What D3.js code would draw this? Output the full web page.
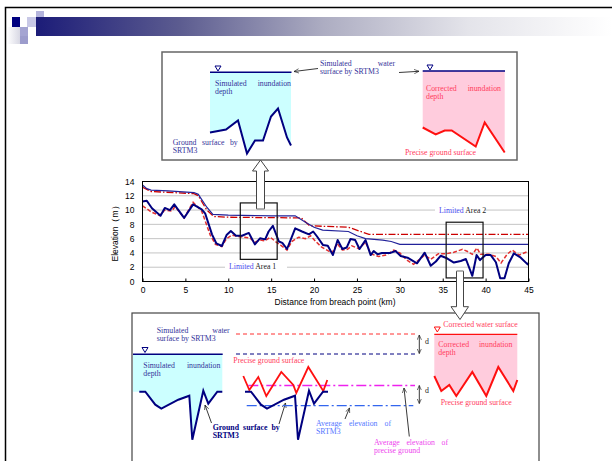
<!DOCTYPE html>
<html>
<head>
<meta charset="utf-8">
<script src="https://cdn.jsdelivr.net/npm/d3@7"></script>
<style>
  body { margin: 0; background: #fff; }
  .tick text { font: 8.5px "Liberation Sans", Arial, sans-serif; }
  .note { font-family: "Liberation Serif", "Times New Roman", serif; font-size: 7.8px; }
</style>
</head>
<body>
<svg id="slide" width="612" height="461"></svg>
<script>
  // elevation profiles along the river (km, m)
  var waterSRTM = [[0, 13.5], [0.5, 13.0], [1, 12.8], [3, 12.7], [6, 12.45], [6.5, 12.2], [7.5, 10.4], [8.2, 9.4],
    [10, 9.3], [15, 9.2], [17.8, 9.2], [19, 8.3], [20, 7.6], [21, 7.2], [24, 7.0], [25, 6.4], [26, 6.0],
    [28, 5.8], [29, 5.6], [30, 5.2], [45, 5.2]];
  var waterCorrected = [[0, 13.2], [1, 12.6], [6, 12.3], [6.5, 12.0], [7.5, 10.0], [8.3, 9.1], [10, 9.0],
    [18.5, 8.9], [19.5, 7.8], [24, 7.6], [26.4, 6.6], [45, 6.6]];
  var groundSRTM = [[0, 11.2], [0.5, 11.3], [1.1, 10.25], [2.1, 9.2], [2.6, 10.3], [3.2, 10.0], [3.7, 10.8],
    [4.85, 8.9], [5.9, 10.8], [6.9, 10.1], [7.3, 9.55], [8.1, 6.6], [8.6, 5.35], [9.25, 4.97], [9.8, 6.5],
    [10.3, 7.07], [10.9, 6.4], [11.6, 6.4], [12.4, 6.8], [13.1, 5.2], [13.7, 6.05], [14.3, 5.9], [14.7, 7.0],
    [15.2, 7.8], [15.9, 5.6], [16.3, 5.4], [16.85, 4.55], [17.8, 7.45], [18.6, 7.0], [19.4, 6.6], [19.9, 7.0],
    [20.35, 6.3], [21.05, 5.1], [21.6, 5.0], [22.2, 3.7], [22.75, 5.8], [23.3, 4.55], [23.8, 4.75],
    [24.25, 5.95], [24.8, 5.8], [25.3, 4.55], [26.0, 5.8], [26.6, 3.7], [26.95, 4.27], [27.4, 3.8],
    [27.9, 4.0], [28.9, 4.0], [29.5, 4.27], [30.1, 3.57], [30.9, 3.33], [32.0, 2.55], [32.9, 4.03],
    [33.6, 2.2], [34.2, 2.8], [34.75, 3.6], [35.5, 3.25], [36.3, 2.65], [37.1, 2.87], [37.7, 3.15],
    [38.45, 0.8], [38.95, 3.7], [39.35, 3.0], [40.0, 3.7], [40.6, 3.7], [41.2, 2.7], [41.7, 0.45],
    [42.2, 0.45], [42.7, 2.55], [43.3, 3.95], [44.1, 3.33], [44.9, 2.4], [45, 2.6]];
  var preciseGround = [[0, 10.6], [1.07, 9.7], [2.0, 9.25], [2.6, 10.0], [3.4, 9.85], [3.8, 10.5], [4.85, 8.9],
    [5.9, 11.1], [6.9, 9.85], [7.9, 6.5], [8.5, 5.2], [9.25, 4.9], [9.8, 6.0], [10.4, 6.5], [11.2, 6.3],
    [12.5, 6.1], [13.1, 5.5], [13.7, 5.8], [14.3, 5.7], [14.9, 6.2], [15.5, 5.6], [16.1, 5.1], [16.85, 4.4],
    [17.4, 5.6], [18.2, 6.2], [19.0, 6.0], [19.6, 6.4], [20.2, 5.6], [20.9, 4.8], [22.1, 4.0], [22.7, 5.3],
    [23.3, 4.4], [23.9, 4.5], [24.4, 5.0], [25.2, 4.6], [26.0, 5.5], [26.6, 3.9], [27.5, 3.5], [28.4, 3.7],
    [29.3, 4.4], [30.0, 4.0], [30.8, 3.0], [31.6, 2.4], [32.9, 3.7], [33.6, 3.1], [34.5, 3.9], [35.5, 3.9],
    [36.3, 4.1], [37.3, 4.5], [37.9, 4.2], [38.45, 3.8], [39.0, 4.7], [39.4, 3.8], [40.4, 3.8], [41.2, 3.5],
    [41.8, 2.6], [42.5, 3.8], [43.1, 4.4], [43.9, 3.7], [44.9, 4.2]];
  var xTicks = [0, 5, 10, 15, 20, 25, 30, 35, 40, 45];
  var yTicks = [0, 2, 4, 6, 8, 10, 12, 14];
  // limited areas: [km from, km to, m top, m bottom]
  var area1 = [11.4, 15.7, 11.0, 3.1];
  var area2 = [35.4, 39.7, 8.3, 0.5];

  // sketch profiles in the explanation boxes (pixel offsets)
  var sketchGroundA = [[0, 24], [16, 21], [28, 12], [37, 45], [45, 32], [53, 32], [61, 8], [68, 0], [77, 29], [81, 37]];
  var sketchGroundB = [[0, 5], [13, 12], [22, 8], [29, 8], [53, 24], [62, 0], [82, 30]];
  var sketchGroundC = [[0, 0], [6, 0], [16, 13], [22, 17], [39, 8], [50, 4], [53, 48], [64, -1], [69, 12], [78, 0], [83, 0]];
  var sketchPreciseC = [[0, 9], [6, 23], [15, 10], [23, 29], [38, 5], [50, 18], [53, 26], [65, 0], [80, 24], [84, 13]];
  var sketchPreciseD = [[0, 9], [7, 24], [15, 18], [22, 29], [38, 5], [52, 29], [64, 0], [79, 24], [83, 13]];

  var svg = d3.select("#slide");

  // ---- slide decoration ----
  var defs = svg.append("defs");
  var grad = defs.append("linearGradient").attr("id", "bar");
  [[0, "#1c1c78"], [0.25, "#5c5c90"], [0.5, "#adadc2"], [0.75, "#e4e4ea"], [1, "#ffffff"]].forEach(function (s) {
    grad.append("stop").attr("offset", s[0]).attr("stop-color", s[1]);
  });
  var lgrad = defs.append("linearGradient").attr("id", "fade").attr("x1", 0).attr("x2", 1);
  lgrad.append("stop").attr("offset", 0).attr("stop-color", "#ffffff");
  lgrad.append("stop").attr("offset", 1).attr("stop-color", "#d8d8e4");

  svg.append("rect").attr("x", 36).attr("y", 17).attr("width", 576).attr("height", 19).attr("fill", "url(#bar)");
  svg.append("rect").attr("x", 7).attr("y", 27).attr("width", 13).attr("height", 17).attr("fill", "url(#fade)");
  svg.append("rect").attr("x", 12).attr("y", 17).attr("width", 8).attr("height", 10).attr("fill", "#000080");
  svg.append("rect").attr("x", 27).attr("y", 17).attr("width", 9).attr("height", 10).attr("fill", "#c8c8e6");
  svg.append("rect").attr("x", 36).attr("y", 11).attr("width", 8).attr("height", 6).attr("fill", "#b4b4dc");
  svg.append("rect").attr("x", 20).attr("y", 27).attr("width", 8).attr("height", 9).attr("fill", "#a4a4d2");
  svg.append("rect").attr("x", 20).attr("y", 36).attr("width", 8).attr("height", 8).attr("fill", "#9c9ccc");
  svg.append("rect").attr("x", 5.5).attr("y", 7.5).attr("width", 700).attr("height", 600)
    .attr("fill", "none").attr("stroke", "#000").attr("stroke-width", 1.5);

  // ---- main chart ----
  var x = d3.scaleLinear().domain([0, 45]).range([142.5, 528.5]);
  var y = d3.scaleLinear().domain([0, 14]).range([281.5, 181.5]);
  var line = d3.line().x(d => x(d[0])).y(d => y(d[1]));

  var chart = svg.append("g");
  chart.append("g").selectAll("line").data(yTicks.slice(1, -1)).enter().append("line")
    .attr("x1", x(0)).attr("x2", x(45)).attr("y1", d => y(d)).attr("y2", d => y(d))
    .attr("stroke", "#c4c4c4").attr("stroke-width", 1);

  chart.append("g").attr("transform", "translate(0," + y(0) + ")")
    .call(d3.axisBottom(x).tickValues(xTicks).tickSize(-3).tickPadding(5))
    .call(g => g.select(".domain").remove())
    .call(g => g.selectAll("text").attr("fill", "#000"));
  chart.append("g").attr("transform", "translate(" + x(0) + ",0)")
    .call(d3.axisLeft(y).tickValues(yTicks).tickSize(0).tickPadding(8))
    .call(g => g.select(".domain").remove())
    .call(g => g.selectAll("text").attr("fill", "#000"));

  chart.append("path").attr("d", line(preciseGround)).attr("fill", "none")
    .attr("stroke", "#e23030").attr("stroke-width", 1.5).attr("stroke-dasharray", "4,2");
  chart.append("path").attr("d", line(waterCorrected)).attr("fill", "none")
    .attr("stroke", "#cc0000").attr("stroke-width", 1.3).attr("stroke-dasharray", "7,2,1.5,2");
  chart.append("path").attr("d", line(waterSRTM)).attr("fill", "none")
    .attr("stroke", "#22229a").attr("stroke-width", 1.2);
  chart.append("path").attr("d", line(groundSRTM)).attr("fill", "none")
    .attr("stroke", "#000080").attr("stroke-width", 2).attr("stroke-linejoin", "round");

  chart.append("rect").attr("x", x(0)).attr("y", y(14)).attr("width", x(45) - x(0)).attr("height", y(0) - y(14))
    .attr("fill", "none").attr("stroke", "#000").attr("stroke-width", 1);

  // limited area labels
  function areaLabel(cx, cy, num, w) {
    chart.append("rect").attr("x", cx - 4).attr("y", cy - 6).attr("width", w).attr("height", 8).attr("fill", "#fff");
    var t = chart.append("text").attr("class", "note").attr("x", cx).attr("y", cy).attr("font-size", 6.8);
    t.append("tspan").attr("fill", "#4a4aee").text("Limited ");
    t.append("tspan").attr("fill", "#222").text("Area " + num);
  }
  areaLabel(229, 269, 1, 62);
  areaLabel(439, 213, 2, 50);

  [area1, area2].forEach(function (a) {
    chart.append("rect").attr("x", x(a[0])).attr("y", y(a[2]))
      .attr("width", x(a[1]) - x(a[0])).attr("height", y(a[3]) - y(a[2]))
      .attr("fill", "none").attr("stroke", "#111").attr("stroke-width", 1.2);
  });

  chart.append("text").attr("transform", "translate(118," + y(7) + ") rotate(-90)")
    .attr("text-anchor", "middle").style("font", "8.5px 'Liberation Sans', Arial, sans-serif")
    .text("Elevation（m）");
  chart.append("text").attr("x", 335).attr("y", 305).attr("text-anchor", "middle")
    .style("font", "8.5px 'Liberation Sans', Arial, sans-serif")
    .text("Distance from breach point (km)");

  // ---- helpers for sketches ----
  function note(g, txt, x0, y0, color, width, bold) {
    if (!width) {
      var t = g.append("text").attr("class", "note").attr("x", x0).attr("y", y0).attr("fill", color).text(txt);
      if (bold) t.attr("font-weight", "bold");
      return;
    }
    // justified line: spread words over the given width
    var words = txt.split(" ");
    var nodes = words.map(function (w) {
      var t = g.append("text").attr("class", "note").attr("y", y0).attr("fill", color).text(w);
      if (bold) t.attr("font-weight", "bold");
      return t;
    });
    var widths = nodes.map(n => n.node().getComputedTextLength());
    var gap = (width - d3.sum(widths)) / (words.length - 1);
    var cx = x0;
    nodes.forEach(function (n, i) {
      n.attr("x", cx);
      cx += widths[i] + gap;
    });
  }
  function prof(pts, x0, y0) {
    return pts.map(p => [x0 + p[0], y0 + p[1]]);
  }
  function poly(g, pts, color, w, dash) {
    var p = g.append("path").attr("d", d3.line()(pts)).attr("fill", "none").attr("stroke", color)
      .attr("stroke-width", w).attr("stroke-linejoin", "miter");
    if (dash) p.attr("stroke-dasharray", dash);
    return p;
  }
  function basin(g, pts, top, fill) {
    var first = pts[0], last = pts[pts.length - 1];
    var area = [[first[0], top]].concat(pts).concat([[last[0], top]]);
    g.append("path").attr("d", d3.line()(area) + "Z").attr("fill", fill);
  }
  function triangle(g, cx, ty, color) {
    g.append("path").attr("d", "M" + (cx - 3) + "," + ty + "L" + (cx + 3) + "," + ty + "L" + cx + "," + (ty + 5) + "Z")
      .attr("fill", "none").attr("stroke", color).attr("stroke-width", 1);
  }
  defs.append("marker").attr("id", "ah").attr("viewBox", "0 0 10 10").attr("refX", 9).attr("refY", 5)
    .attr("markerWidth", 6).attr("markerHeight", 6).attr("orient", "auto-start-reverse")
    .append("path").attr("d", "M0,1L9,5L0,9").attr("fill", "none").attr("stroke", "#222").attr("stroke-width", 1.2);
  function arrow(g, x1, y1, x2, y2) {
    g.append("line").attr("x1", x1).attr("y1", y1).attr("x2", x2).attr("y2", y2)
      .attr("stroke", "#222").attr("stroke-width", 0.9).attr("marker-end", "url(#ah)");
  }

  var navy = "#33339a", red = "#ff3b5c", cyan = "#ccffff", pink = "#ffccdd";

  // ---- upper explanation box ----
  var up = svg.append("g");
  up.append("rect").attr("x", 162).attr("y", 52).attr("width", 355).attr("height", 108)
    .attr("fill", "#fff").attr("stroke", "#666").attr("stroke-width", 1.5);
  var gA = prof(sketchGroundA, 210, 108.5);
  basin(up, gA, 72.3, cyan);
  poly(up, gA, "#000080", 2);
  up.append("line").attr("x1", 210).attr("x2", 291.5).attr("y1", 72.3).attr("y2", 72.3).attr("stroke", "#000080").attr("stroke-width", 1.5);
  triangle(up, 218, 66, "#000080");
  note(up, "Simulated inundation", 215, 86, navy, 76);
  note(up, "depth", 215, 94, navy);
  note(up, "Ground surface by", 172.7, 145, navy, 65);
  note(up, "SRTM3", 172.7, 153, navy);
  note(up, "Simulated water", 320, 66, navy, 75);
  note(up, "surface by SRTM3", 320, 74, navy);
  arrow(up, 318, 68.5, 294, 71.5);
  arrow(up, 399, 72.5, 419, 71.3);

  var gB = prof(sketchGroundB, 422.7, 122.5);
  basin(up, gB, 71, pink);
  poly(up, gB, "#ff1010", 2);
  up.append("line").attr("x1", 422.7).attr("x2", 505).attr("y1", 71).attr("y2", 71).attr("stroke", "#000080").attr("stroke-width", 1.5);
  triangle(up, 430, 65, "#000080");
  note(up, "Corrected inundation", 426, 91, red, 75);
  note(up, "depth", 426, 99, red);
  note(up, "Precise ground surface", 405, 154.5, red);

  // hollow arrow from area 1 up to the box
  svg.append("path").attr("d", "M256.5,209L256.5,171L252.5,171L260.5,160L268.5,171L264.5,171L264.5,209")
    .attr("fill", "#fff").attr("stroke", "#444").attr("stroke-width", 1);
  svg.append("line").attr("x1", 256.5).attr("x2", 264.5).attr("y1", 209).attr("y2", 209).attr("stroke", "#999").attr("stroke-width", 1.5);

  // ---- lower explanation box ----
  var lo = svg.append("g");
  lo.append("rect").attr("x", 132).attr("y", 313).attr("width", 407).attr("height", 200)
    .attr("fill", "#fff").attr("stroke", "#444").attr("stroke-width", 1.2);

  var gC = prof(sketchGroundC, 139.3, 391.7);
  basin(lo, [[133, 391.7]].concat(gC), 354.3, cyan);
  poly(lo, gC, "#000080", 2);
  lo.append("line").attr("x1", 133).attr("x2", 222.7).attr("y1", 354.3).attr("y2", 354.3).attr("stroke", "#000080").attr("stroke-width", 1.5);
  triangle(lo, 145, 347.5, "#000080");
  note(lo, "Simulated water", 156.7, 333, navy, 73);
  note(lo, "surface by SRTM3", 156.7, 341, navy);
  note(lo, "Simulated inundation", 143.3, 368, navy, 77);
  note(lo, "depth", 143.3, 376, navy);
  note(lo, "Ground surface by", 212.7, 429.5, "#000080", 67, true);
  note(lo, "SRTM3", 212.7, 437.5, "#000080", null, true);
  arrow(lo, 211.5, 423, 205, 405);
  arrow(lo, 279, 424, 285.5, 403);

  // middle comparison
  lo.append("line").attr("x1", 236).attr("x2", 416.7).attr("y1", 334).attr("y2", 334).attr("stroke", "#ff3030").attr("stroke-width", 1).attr("stroke-dasharray", "4,3");
  lo.append("line").attr("x1", 236).attr("x2", 416.7).attr("y1", 354).attr("y2", 354).attr("stroke", "#000080").attr("stroke-width", 1).attr("stroke-dasharray", "4,3");
  note(lo, "Precise ground surface", 233.3, 363, red);
  lo.append("line").attr("x1", 248.3).attr("x2", 415).attr("y1", 385.5).attr("y2", 385.5).attr("stroke", "#ee22ee").attr("stroke-width", 1.5).attr("stroke-dasharray", "10,3,2,3");
  lo.append("line").attr("x1", 246.7).attr("x2", 413.3).attr("y1", 405.7).attr("y2", 405.7).attr("stroke", "#3366ee").attr("stroke-width", 1.2).attr("stroke-dasharray", "10,3,2,3");
  poly(lo, prof(sketchPreciseC, 243.3, 367), "#ff1010", 1.8);
  poly(lo, prof(sketchGroundC, 245, 391.7), "#000080", 2);
  arrow(lo, 419.3, 344, 419.3, 335);
  arrow(lo, 419.3, 344, 419.3, 353.5);
  arrow(lo, 419.3, 394, 419.3, 385.5);
  arrow(lo, 419.3, 394, 419.3, 403.5);
  note(lo, "d", 425, 344, "#222");
  note(lo, "d", 425, 393, "#222");
  note(lo, "Average elevation of", 316, 426, "#5577ff", 75);
  note(lo, "SRTM3", 316, 434, "#5577ff");
  arrow(lo, 345, 419, 349.5, 408);
  note(lo, "Average elevation of", 374, 444.5, "#ee44ee", 74);
  note(lo, "precise ground", 374, 452.5, "#ee44ee");
  arrow(lo, 409.3, 436.5, 404, 388);

  // right: corrected
  var gD = prof(sketchPreciseD, 434.3, 367);
  basin(lo, gD, 334.3, pink);
  poly(lo, gD, "#ff1010", 2);
  lo.append("line").attr("x1", 434.3).attr("x2", 517.3).attr("y1", 334.3).attr("y2", 334.3).attr("stroke", "#ff1010").attr("stroke-width", 1.3);
  triangle(lo, 437.3, 327, "#ff1010");
  note(lo, "Corrected water surface", 443.3, 326.5, red);
  note(lo, "Corrected inundation", 438.3, 347, red, 74);
  note(lo, "depth", 438.3, 355, red);
  note(lo, "Precise ground surface", 440.7, 404.5, red);

  // hollow arrow from area 2 down to the box
  svg.append("path").attr("d", "M456.5,271L456.5,306.7L451,306.7L460,319.5L468.5,306.7L463.5,306.7L463.5,271")
    .attr("fill", "#fff").attr("stroke", "#444").attr("stroke-width", 1);
  svg.append("line").attr("x1", 456.5).attr("x2", 463.5).attr("y1", 271).attr("y2", 271).attr("stroke", "#999").attr("stroke-width", 1.5);
</script>
</body>
</html>
